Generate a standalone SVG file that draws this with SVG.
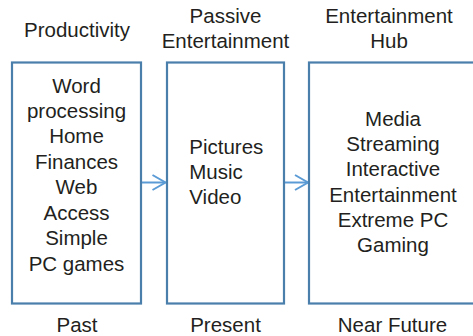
<svg xmlns="http://www.w3.org/2000/svg" width="473" height="336" viewBox="0 0 473 336">
<defs>
<style>
text{font-family:"Liberation Sans",Arial,sans-serif;font-size:20.5px;fill:#231f20}
.c{text-anchor:middle}
.box{fill:#fff;stroke:#4a7eab;stroke-width:2.2}
.arr{stroke:#5b9bd5;stroke-width:2;fill:none}
</style>
<marker id="ah" markerUnits="userSpaceOnUse" markerWidth="18" markerHeight="20" refX="14" refY="8.5" orient="auto">
<path d="M1,1 L14,8.5 L1,16" fill="none" stroke="#5b9bd5" stroke-width="2"/>
</marker>
</defs>
<rect width="473" height="336" fill="#fff"/>
<g id="connectors">
<line class="arr" x1="142" y1="182.5" x2="165.5" y2="182.5" marker-end="url(#ah)"/>
<line class="arr" x1="285" y1="182.5" x2="308" y2="182.5" marker-end="url(#ah)"/>
</g>
<g id="past">
<text class="c" x="77" y="36.7">Productivity</text>
<rect class="box" x="12" y="62.5" width="129" height="241"/>
<text class="c" x="76.5" y="92.5">Word</text>
<text class="c" x="76.5" y="118">processing</text>
<text class="c" x="76.5" y="143.4">Home</text>
<text class="c" x="76.5" y="168.8">Finances</text>
<text class="c" x="76.5" y="194.3">Web</text>
<text class="c" x="76.5" y="219.8">Access</text>
<text class="c" x="76.5" y="245.3">Simple</text>
<text class="c" x="76.5" y="270.7">PC games</text>
<text class="c" x="77" y="331.5">Past</text>
</g>
<g id="present">
<text class="c" x="225.5" y="22.7">Passive</text>
<text class="c" x="225.5" y="47.7">Entertainment</text>
<rect class="box" x="167" y="62.5" width="117" height="241"/>
<text x="189.3" y="154">Pictures</text>
<text x="189.3" y="179">Music</text>
<text x="189.3" y="204">Video</text>
<text class="c" x="225.5" y="331.5">Present</text>
</g>
<g id="near-future">
<text class="c" x="389" y="22.7">Entertainment</text>
<text class="c" x="389" y="48.3">Hub</text>
<rect class="box" x="309" y="62.5" width="170" height="241"/>
<text class="c" x="393" y="126">Media</text>
<text class="c" x="393" y="151">Streaming</text>
<text class="c" x="393" y="176.2">Interactive</text>
<text class="c" x="393" y="201.5">Entertainment</text>
<text class="c" x="393" y="226.7">Extreme PC</text>
<text class="c" x="393" y="251.8">Gaming</text>
<text class="c" x="392.5" y="331.5">Near Future</text>
</g>
</svg>
